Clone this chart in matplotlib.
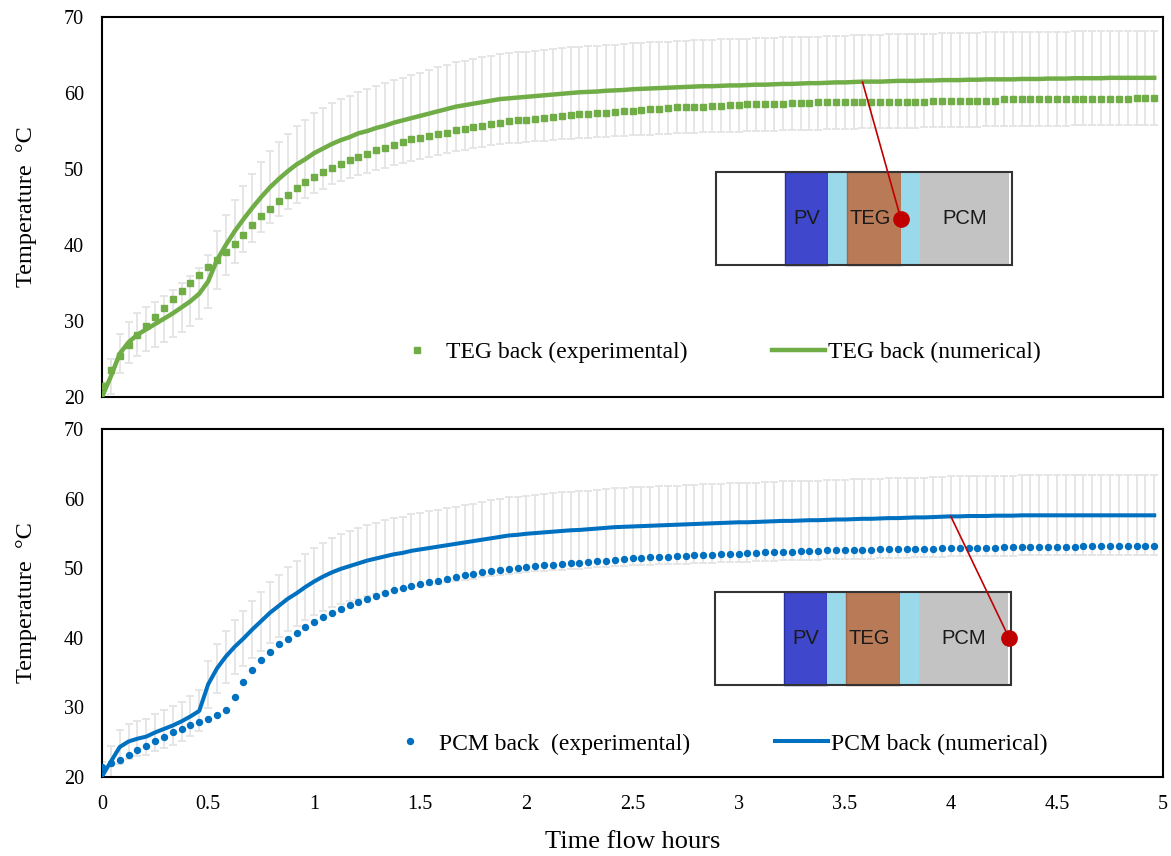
import numpy as np
import matplotlib
matplotlib.use("Agg")
import matplotlib.pyplot as plt
from matplotlib.patches import Rectangle
from matplotlib.ticker import FormatStrFormatter, MultipleLocator

plt.rcParams['font.family'] = ['Liberation Serif', 'DejaVu Serif']

# logger sampled every 2.5 min, 120 readings
time_h = np.arange(120) * 2.5 / 60.0

teg_exp = [21.5, 23.5, 25.4, 26.9, 28.1, 29.3, 30.5, 31.7, 32.9, 34.0,
           35.0, 36.1, 37.1, 38.0, 39.1, 40.1, 41.3, 42.6, 43.8, 44.7,
           45.8, 46.6, 47.5, 48.3, 49.0, 49.6, 50.2, 50.7, 51.2, 51.6,
           52.0, 52.5, 52.8, 53.2, 53.6, 53.9, 54.1, 54.4, 54.6, 54.8,
           55.1, 55.3, 55.5, 55.7, 55.9, 56.1, 56.3, 56.4, 56.5, 56.6,
           56.7, 56.8, 57.0, 57.1, 57.2, 57.3, 57.4, 57.4, 57.5, 57.6,
           57.7, 57.8, 57.9, 57.9, 58.0, 58.1, 58.1, 58.2, 58.2, 58.3,
           58.3, 58.4, 58.4, 58.5, 58.5, 58.5, 58.6, 58.6, 58.7, 58.7,
           58.7, 58.8, 58.8, 58.8, 58.8, 58.85, 58.85, 58.85, 58.85, 58.85,
           58.85, 58.85, 58.85, 58.85, 59.0, 59.0, 59.0, 59.0, 59.0, 59.0,
           59.0, 59.0, 59.15, 59.15, 59.15, 59.15, 59.15, 59.15, 59.15, 59.15,
           59.15, 59.15, 59.15, 59.15, 59.15, 59.15, 59.15, 59.4, 59.4, 59.4]

teg_num = [20.0, 22.7, 25.7, 27.2, 28.2, 28.9, 29.6, 30.3, 31.0, 31.8,
           32.6, 33.6, 35.2, 38.0, 40.0, 41.8, 43.4, 44.9, 46.3, 47.6,
           48.7, 49.7, 50.6, 51.3, 52.1, 52.7, 53.3, 53.8, 54.2, 54.7,
           55.0, 55.4, 55.7, 56.1, 56.4, 56.7, 57.0, 57.3, 57.6, 57.9,
           58.2, 58.4, 58.6, 58.8, 59.0, 59.2, 59.3, 59.4, 59.5, 59.6,
           59.7, 59.8, 59.9, 60.0, 60.1, 60.15, 60.2, 60.3, 60.35, 60.4,
           60.5, 60.55, 60.6, 60.65, 60.7, 60.75, 60.8, 60.85, 60.9, 60.9,
           60.95, 61.0, 61.0, 61.05, 61.1, 61.1, 61.15, 61.2, 61.2, 61.25,
           61.3, 61.3, 61.35, 61.4, 61.4, 61.45, 61.5, 61.5, 61.5, 61.55,
           61.6, 61.6, 61.6, 61.65, 61.65, 61.7, 61.7, 61.7, 61.75, 61.75,
           61.8, 61.8, 61.8, 61.8, 61.85, 61.85, 61.85, 61.9, 61.9, 61.9,
           61.95, 61.95, 61.95, 61.95, 62.0, 62.0, 62.0, 62.0, 62.0, 62.0]

pcm_exp = [21.5, 22.0, 22.4, 23.1, 23.9, 24.5, 25.2, 25.8, 26.4, 26.9,
           27.4, 27.9, 28.4, 28.9, 29.6, 31.5, 33.7, 35.4, 36.8, 38.0,
           39.1, 39.8, 40.7, 41.5, 42.3, 43.0, 43.6, 44.2, 44.7, 45.1,
           45.6, 46.0, 46.4, 46.8, 47.1, 47.4, 47.7, 48.0, 48.2, 48.5,
           48.7, 49.0, 49.2, 49.4, 49.6, 49.7, 49.9, 50.0, 50.2, 50.3,
           50.4, 50.5, 50.6, 50.7, 50.8, 50.9, 51.0, 51.1, 51.2, 51.3,
           51.4, 51.5, 51.55, 51.6, 51.65, 51.7, 51.8, 51.85, 51.9, 51.95,
           52.0, 52.05, 52.1, 52.2, 52.25, 52.3, 52.35, 52.4, 52.4, 52.45,
           52.5, 52.5, 52.55, 52.6, 52.6, 52.6, 52.65, 52.65, 52.7, 52.7,
           52.7, 52.75, 52.75, 52.8, 52.8, 52.85, 52.85, 52.9, 52.9, 52.9,
           52.95, 52.95, 53.0, 53.0, 53.0, 53.05, 53.05, 53.05, 53.1, 53.1,
           53.1, 53.15, 53.15, 53.15, 53.2, 53.2, 53.2, 53.2, 53.25, 53.25]

pcm_num = [20.1, 22.2, 24.3, 25.1, 25.5, 25.8, 26.4, 26.9, 27.4, 28.0,
           28.7, 29.5, 33.3, 35.6, 37.3, 38.7, 39.9, 41.2, 42.4, 43.6,
           44.6, 45.6, 46.4, 47.3, 48.1, 48.8, 49.4, 49.9, 50.3, 50.7,
           51.1, 51.4, 51.7, 52.0, 52.2, 52.5, 52.7, 52.9, 53.1, 53.3,
           53.5, 53.7, 53.9, 54.1, 54.3, 54.5, 54.7, 54.8, 54.95, 55.05,
           55.15, 55.25, 55.35, 55.45, 55.5, 55.6, 55.7, 55.8, 55.9, 55.95,
           56.0, 56.05, 56.1, 56.15, 56.2, 56.25, 56.3, 56.35, 56.4, 56.45,
           56.5, 56.55, 56.6, 56.6, 56.65, 56.7, 56.75, 56.8, 56.8, 56.85,
           56.9, 56.9, 56.95, 57.0, 57.0, 57.05, 57.1, 57.1, 57.15, 57.2,
           57.2, 57.25, 57.3, 57.3, 57.35, 57.4, 57.45, 57.45, 57.5, 57.5,
           57.5, 57.55, 57.55, 57.55, 57.6, 57.6, 57.6, 57.6, 57.6, 57.6,
           57.6, 57.6, 57.6, 57.6, 57.6, 57.6, 57.6, 57.6, 57.6, 57.6]

# model uncertainty band (fraction of numerical value)
err_frac = 0.10

# layer stack of the module: label, fill, relative width
layers = [("", "white", 69), ("PV", "#3f48cc", 43), ("", "#99d9ea", 19),
          ("TEG", "#b97a57", 54), ("", "#99d9ea", 19), ("PCM", "#c3c3c3", 89)]

green = "#70ad47"
blue = "#0070c0"
red = "#c00000"


def draw_stack(ax, x0, y0, w, h):
    total = sum(l[2] for l in layers) + 3
    x = x0
    for name, col, lw in layers:
        dw = w * lw / total
        ec = {"PV": "#2a2fa0", "TEG": "#a0684a"}.get(name, "none")
        ax.add_patch(Rectangle((x, y0), dw, h, transform=ax.transAxes,
                               facecolor=col, edgecolor=ec, lw=1.0, zorder=5))
        if name:
            # TEG label sits a little left of centre in the sketch
            dx = -0.004 if name == "TEG" else 0.0
            ax.text(x + dw / 2 + dx, y0 + h / 2, name, transform=ax.transAxes,
                    ha='center', va='center', fontsize=14.5,
                    family='Liberation Sans', color='#1a1a1a', zorder=6)
        x += dw
    ax.add_patch(Rectangle((x0, y0), w, h, transform=ax.transAxes,
                           facecolor='none', edgecolor='#333333', lw=1.5, zorder=7))


def style_axes(ax, ymin=20, ymax=70):
    ax.set_xlim(0, 5)
    ax.set_ylim(ymin, ymax)
    ax.xaxis.set_major_locator(MultipleLocator(0.5))
    ax.yaxis.set_major_locator(MultipleLocator(10))
    ax.xaxis.set_major_formatter(FormatStrFormatter('%g'))
    ax.tick_params(length=0, labelsize=14.5, pad=13)
    for s in ax.spines.values():
        s.set_color('black')
        s.set_linewidth(1.5)
    ax.set_ylabel('Temperature  \u00b0C', fontsize=17.5)
    ax.yaxis.set_label_coords(-0.061, 0.5)


def add_legend(ax, ypos):
    ax.legend(loc='center', bbox_to_anchor=(0.578, ypos), ncol=2, frameon=False,
              fontsize=17, handlelength=2.25, handletextpad=0.1,
              columnspacing=3.6, markerscale=1.0)


fig = plt.figure(figsize=(11.71, 8.56), dpi=100)
ax1 = fig.add_axes([0.0871, 0.5362, 0.9061, 0.4439])
ax2 = fig.add_axes([0.0871, 0.0923, 0.9061, 0.4065])

# top: TEG back surface
teg_num_a = np.array(teg_num)
ax1.errorbar(time_h, teg_num_a, yerr=err_frac * teg_num_a, fmt='none',
             ecolor='#e4e4e4', elinewidth=1.3, capsize=3, capthick=1.3, zorder=1)
ax1.plot(time_h, teg_exp, ls='none', marker='s', ms=4.8, color=green,
         label='TEG back (experimental)', zorder=3)
ax1.plot(time_h, teg_num_a, color=green, lw=3.2, label='TEG back (numerical)', zorder=4)
style_axes(ax1)
ax1.tick_params(axis='x', labelbottom=False)
add_legend(ax1, 0.118)
draw_stack(ax1, 0.579, 0.347, 0.279, 0.245)
k1 = 86
ax1.annotate('', xy=(time_h[k1], teg_num[k1]), xycoords='data',
             xytext=(0.753, 0.468), textcoords='axes fraction',
             arrowprops=dict(arrowstyle='-', color=red, lw=1.2,
                             shrinkA=0, shrinkB=0), zorder=8)
ax1.plot(0.753, 0.468, 'o', ms=11, color=red, transform=ax1.transAxes, zorder=9)

# bottom: PCM back surface
pcm_num_a = np.array(pcm_num)
ax2.errorbar(time_h, pcm_num_a, yerr=err_frac * pcm_num_a, fmt='none',
             ecolor='#e4e4e4', elinewidth=1.3, capsize=3, capthick=1.3, zorder=1)
ax2.plot(time_h, pcm_exp, ls='none', marker='o', ms=4.3, color=blue,
         label='PCM back  (experimental)', zorder=3)
ax2.plot(time_h, pcm_num_a, color=blue, lw=2.9, label='PCM back (numerical)', zorder=4)
style_axes(ax2)
add_legend(ax2, 0.095)
draw_stack(ax2, 0.578, 0.264, 0.279, 0.268)
k2 = 96
ax2.annotate('', xy=(time_h[k2], pcm_num[k2]), xycoords='data',
             xytext=(0.855, 0.399), textcoords='axes fraction',
             arrowprops=dict(arrowstyle='-', color=red, lw=1.2,
                             shrinkA=0, shrinkB=0), zorder=8)
ax2.plot(0.855, 0.399, 'o', ms=11, color=red, transform=ax2.transAxes, zorder=9)

fig.text(0.54, 0.003, 'Time flow hours', ha='center', va='bottom', fontsize=19)

fig.savefig('out.png', dpi=100)
